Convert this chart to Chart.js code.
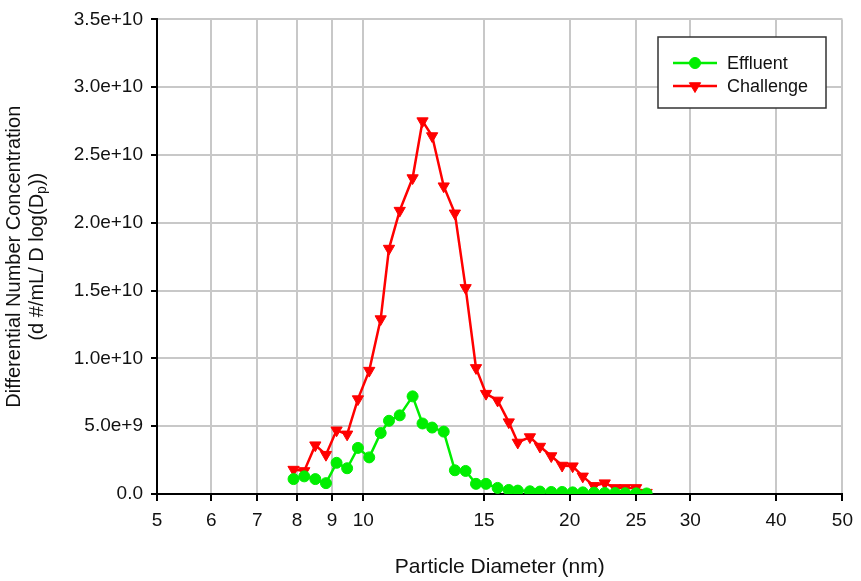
<!DOCTYPE html>
<html>
<head>
<meta charset="utf-8">
<script src="https://cdn.jsdelivr.net/npm/chart.js@4.4.1/dist/chart.umd.min.js"></script>
<style>
  body { margin: 0; background: #fff; }
  #wrap { width: 861px; height: 581px; position: relative; }
</style>
</head>
<body>
<div id="wrap"><canvas id="chart_psd"></canvas></div>
<script>
// particle size channels (nm) and number concentrations
var diameters = [7.91, 8.20, 8.51, 8.82, 9.14, 9.47, 9.82, 10.2, 10.6, 10.9, 11.3, 11.8,
	12.2, 12.6, 13.1, 13.6, 14.1, 14.6, 15.1, 15.7, 16.3, 16.8, 17.5, 18.1, 18.8, 19.5,
	20.2, 20.9, 21.7, 22.5, 23.3, 24.1, 25.0, 25.9];

var effluent = [1.1e9, 1.3e9, 1.1e9, 0.8e9, 2.3e9, 1.9e9, 3.4e9, 2.7e9, 4.5e9, 5.4e9, 5.8e9, 7.2e9,
	5.2e9, 4.9e9, 4.6e9, 1.75e9, 1.7e9, 0.75e9, 0.75e9, 0.45e9, 0.3e9, 0.25e9, 0.2e9, 0.18e9, 0.15e9, 0.15e9,
	0.12e9, 0.12e9, 0.1e9, 0.08e9, 0.07e9, 0.06e9, 0.05e9, 0.04e9];

var challenge = [1.8e9, 1.7e9, 3.6e9, 2.9e9, 4.7e9, 4.4e9, 7.0e9, 9.1e9, 12.9e9, 18.1e9, 20.9e9, 23.3e9,
	27.5e9, 26.4e9, 22.7e9, 20.7e9, 15.2e9, 9.3e9, 7.4e9, 6.9e9, 5.3e9, 3.8e9, 4.2e9, 3.5e9, 2.8e9, 2.1e9,
	2.05e9, 1.3e9, 0.6e9, 0.8e9, 0.45e9, 0.45e9, 0.45e9, 0.1e9];

var xTicks = [5, 6, 7, 8, 9, 10, 15, 20, 25, 30, 40, 50];

var FONT = '"Liberation Sans", Arial, sans-serif';

function points(ys) {
	return diameters.map(function (d, i) { return { x: d, y: ys[i] }; });
}

// legend box drawn inside the plot area
var boxLegend = {
	id: 'boxLegend',
	afterDraw: function (chart) {
		var ctx = chart.ctx;
		ctx.save();
		ctx.fillStyle = '#fff';
		ctx.fillRect(658, 37, 168, 71);
		ctx.strokeStyle = '#333';
		ctx.lineWidth = 1.5;
		ctx.strokeRect(658, 37, 168, 71);
		ctx.font = '18px ' + FONT;
		ctx.textBaseline = 'middle';
		chart.data.datasets.forEach(function (ds, i) {
			var y = 63 + i * 23;
			ctx.strokeStyle = ds.borderColor;
			ctx.fillStyle = ds.backgroundColor;
			ctx.lineWidth = 2.5;
			ctx.beginPath();
			ctx.moveTo(673, y);
			ctx.lineTo(717, y);
			ctx.stroke();
			ctx.lineWidth = 1;
			Chart.helpers.drawPoint(ctx, {
				pointStyle: ds.pointStyle,
				radius: ds.pointRadius,
				rotation: ds.pointRotation || 0,
				borderWidth: 1
			}, 695, y);
			ctx.fillStyle = '#111';
			ctx.fillText(ds.label, 727, y + 1);
		});
		ctx.restore();
	}
};

// two-line y axis title with subscript p
var yTitle = {
	id: 'yTitle',
	afterDraw: function (chart) {
		var ctx = chart.ctx;
		var cy = (chart.chartArea.top + chart.chartArea.bottom) / 2;
		ctx.save();
		ctx.fillStyle = '#111';
		ctx.textBaseline = 'middle';
		ctx.translate(14, cy);
		ctx.rotate(-Math.PI / 2);
		ctx.font = '20px ' + FONT;
		ctx.textAlign = 'center';
		ctx.fillText('Differential Number Concentration', 0, 0);

		var a = '(d #/mL/ D log(D', b = 'p', c = '))';
		ctx.textAlign = 'left';
		var wa = ctx.measureText(a).width, wc = ctx.measureText(c).width;
		ctx.font = '14px ' + FONT;
		var wb = ctx.measureText(b).width;
		var x0 = -(wa + wb + wc) / 2;
		ctx.font = '20px ' + FONT;
		ctx.fillText(a, x0, 23);
		ctx.font = '14px ' + FONT;
		ctx.fillText(b, x0 + wa, 28);
		ctx.font = '20px ' + FONT;
		ctx.fillText(c, x0 + wa + wb, 23);
		ctx.restore();
	}
};

var chart_psd = new Chart(
	document.getElementById('chart_psd'),
	{
		type: 'line',
		data: {
			datasets: [
				{
					label: 'Effluent',
					data: points(effluent),
					borderColor: '#00ee00',
					backgroundColor: '#00ee00',
					borderWidth: 2.5,
					pointStyle: 'circle',
					pointRadius: 5.5,
					pointBorderWidth: 1
				},
				{
					label: 'Challenge',
					data: points(challenge),
					borderColor: '#ff0000',
					backgroundColor: '#ff0000',
					borderWidth: 2.5,
					pointStyle: 'triangle',
					pointRotation: 180,
					pointRadius: 6.5,
					pointBorderWidth: 1
				}
			]
		},
		options: {
			responsive: true,
			maintainAspectRatio: false,
			animation: false,
			layout: { padding: { top: 16, right: 18, left: 0, bottom: 0 } },
			plugins: {
				legend: { display: false },
				tooltip: { enabled: false }
			},
			scales: {
				x: {
					type: 'logarithmic',
					min: 5,
					max: 50,
					afterBuildTicks: function (axis) {
						axis.ticks = xTicks.map(function (v) { return { value: v }; });
					},
					afterFit: function (axis) { axis.height = 87; },
					grid: { color: '#c8c8c8', lineWidth: 2, tickColor: '#000', tickLength: 7 },
					border: { color: '#000', width: 2 },
					ticks: {
						color: '#111',
						font: { family: FONT, size: 19 },
						padding: 8,
						maxRotation: 0,
						autoSkip: false,
						callback: function (v) { return String(v); }
					},
					title: {
						display: true,
						text: 'Particle Diameter (nm)',
						color: '#111',
						font: { family: FONT, size: 21 },
						padding: { top: 0, bottom: 1 }
					}
				},
				y: {
					min: 0,
					max: 3.5e10,
					afterFit: function (axis) { axis.width = 157; },
					grid: { color: '#c8c8c8', lineWidth: 2, tickColor: '#000', tickLength: 6 },
					border: { color: '#000', width: 2 },
					ticks: {
						stepSize: 5e9,
						color: '#111',
						font: { family: FONT, size: 19 },
						padding: 8,
						callback: function (v) { return v === 0 ? '0.0' : v.toExponential(1); }
					}
				}
			}
		},
		plugins: [boxLegend, yTitle]
	}
);
</script>
</body>
</html>
